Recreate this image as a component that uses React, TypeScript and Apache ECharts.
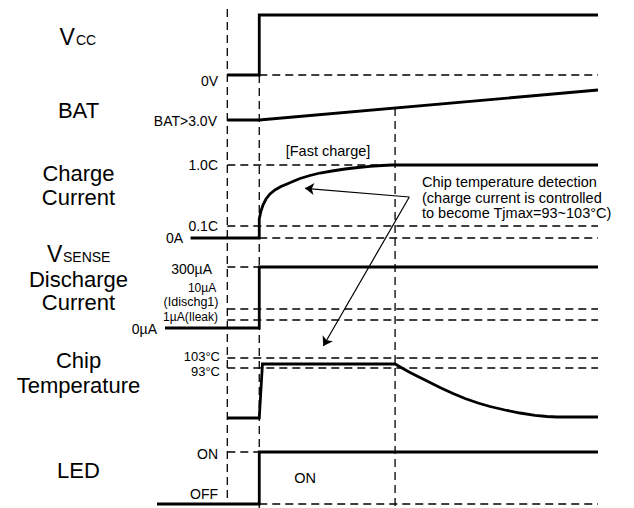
import { useEffect, useRef } from "react";
import * as echarts from "echarts";

const FONT = '"Liberation Sans", Arial, Helvetica, sans-serif';
const INK = "#000";

// Time axis in arbitrary units: 0 = first marker, 10 = power applied, 52.5 = end of fast charge
const timeRange = [-22, 116];
// Vertical axis: schematic row (top = 0, downward)
const rowRange = [0, 508];

// Solid waveforms [time, row]
const vccWave = [[0, 75], [10, 75], [10, 15], [116, 15]];
const batWave = [[0, 120], [10, 120], [116, 90]];
const chargeWave = [
  [-11.5, 238], [10, 238], [10, 219], [10.54, 211], [11.17, 205], [12.11, 199], [13.36, 194],
  [14.92, 190], [16.8, 186.5], [18.68, 184], [20.87, 181], [22.75, 178.5], [25.88, 175.5],
  [29.01, 173], [32.76, 171], [36.83, 169], [40.9, 167.5], [44.66, 166.3], [48.41, 165.5],
  [51.54, 165], [116, 165],
];
const dischargeWave = [[-19.5, 328], [10, 328], [10, 267], [116, 267]];
const tempWave = [
  [0, 418], [10, 418], [11, 364], [52.5, 364], [54.67, 368], [57.17, 372.5], [60.3, 377.5],
  [63.43, 382.5], [66.87, 388], [70.63, 393.5], [74.38, 398.5], [78.45, 403], [82.2, 406.5],
  [86.9, 410], [91.59, 413], [96.28, 415.3], [100.04, 416.5], [103.17, 417], [116, 417],
];
const ledWave = [[-22, 504], [10, 504], [10, 452], [116, 452]];

// Dashed reference lines
const refLines = [
  [[10, 75], [116, 75]],
  [[0, 165], [51.5, 165]],
  [[0, 226], [116, 226]],
  [[10, 238], [116, 238]],
  [[0, 267], [10, 267]],
  [[0, 309], [116, 309]],
  [[0, 320], [116, 320]],
  [[0, 358], [116, 358]],
  [[0, 368], [116, 368]],
  [[0, 452], [10, 452]],
  [[10, 504], [116, 504]],
  [[0, 9], [0, 505]],
  [[10, 75], [10, 508]],
  [[52.5, 108], [52.5, 508]],
];

// Annotation arrows [from, to]
const arrows = [
  [[56.95, 197], [24.31, 188.3]],
  [[56.95, 197], [30.04, 346]],
];

// Texts
const laneTitles = ["BAT", "Charge", "Current", "Discharge", "Current", "Chip", "Temperature", "LED"];
const laneTitleY = [110.5, 173.5, 197.5, 279.5, 302.5, 360.5, 385.5, 470.5];

const levelLabels = ["0V", "BAT>3.0V", "1.0C", "0.1C", "0A", "300µA", "10µA", "(Idischg1)", "1µA(Ileak)", "0µA", "103°C", "93°C", "ON", "OFF"];
const levelLabelLayout: [number, number, string, number][] = [
  [218, 80.5, "right", 14],
  [217, 120.5, "right", 14],
  [218, 164.5, "right", 14],
  [218, 225.5, "right", 14],
  [183, 238, "right", 14],
  [212, 269, "right", 14],
  [202, 288, "center", 12],
  [191, 302, "center", 12.5],
  [218, 317, "right", 12],
  [157, 329, "right", 14],
  [220, 356, "right", 13],
  [220, 371, "right", 13],
  [218, 453.5, "right", 14],
  [218, 494, "right", 14],
];

const noteLines = ["Chip temperature detection", "(charge current is controlled", "to become Tjmax=93~103°C)"];
const noteY = [182, 198, 213];

export default function App() {
  const ref = useRef<HTMLDivElement>(null);
  useEffect(() => {
    if (!ref.current) return;
    const chart = echarts.init(ref.current, undefined, { renderer: "svg" });

    const solid = (data: number[][]) => ({
      type: "line",
      data,
      showSymbol: false,
      symbol: "none",
      clip: false,
      silent: true,
      lineStyle: { color: INK, width: 2.8, join: "miter", cap: "butt" },
    });
    const dashed = (data: number[][]) => ({
      type: "line",
      data,
      showSymbol: false,
      symbol: "none",
      clip: false,
      silent: true,
      lineStyle: { color: INK, width: 1.3, type: [8, 5] },
    });

    const txt = (text: string, x: number, y: number, size: number, align = "center") => ({
      type: "text",
      x,
      y,
      silent: true,
      style: { text, x: 0, y: 0, fontSize: size, fontFamily: FONT, fill: INK, align, verticalAlign: "middle" },
    });

    const graphics: any[] = [];
    // Vcc title
    graphics.push(txt("V", 59.5, 37, 23, "left"));
    graphics.push(txt("CC", 76, 40.1, 14, "left"));
    // VSENSE
    graphics.push(txt("V", 47, 254, 23, "left"));
    graphics.push(txt("SENSE", 63, 257.1, 14, "left"));
    laneTitles.forEach((t, i) => graphics.push(txt(t, 78.5, laneTitleY[i], 22)));
    levelLabels.forEach((t, i) => {
      const [x, y, a, s] = levelLabelLayout[i];
      graphics.push(txt(t, x, y, s, a));
    });
    graphics.push(txt("[Fast charge]", 328, 150.5, 14.5));
    graphics.push(txt("ON", 305, 478, 14.5));
    noteLines.forEach((t, i) => graphics.push(txt(t, 422, noteY[i], 14.5, "left")));

    chart.setOption({
      animation: false,
      backgroundColor: "#fff",
      grid: { left: 157, right: 36, top: 0, bottom: 0 },
      xAxis: { type: "value", min: timeRange[0], max: timeRange[1], show: false },
      yAxis: { type: "value", min: rowRange[0], max: rowRange[1], inverse: true, show: false },
      series: [
        ...refLines.map((l) => dashed(l)),
        solid(vccWave),
        solid(batWave),
        solid(chargeWave),
        solid(dischargeWave),
        solid(tempWave),
        solid(ledWave),
        {
          type: "lines",
          coordinateSystem: "cartesian2d",
          silent: true,
          symbol: ["none", "arrow"],
          symbolSize: [6, 9],
          lineStyle: { color: INK, width: 1.2, opacity: 1 },
          data: arrows.map((a) => ({ coords: a })),
        },
      ],
      graphic: graphics,
    });
    return () => chart.dispose();
  }, []);
  return <div ref={ref} style={{ position: "fixed", left: 0, top: 0, width: 634, height: 508 }} />;
}
